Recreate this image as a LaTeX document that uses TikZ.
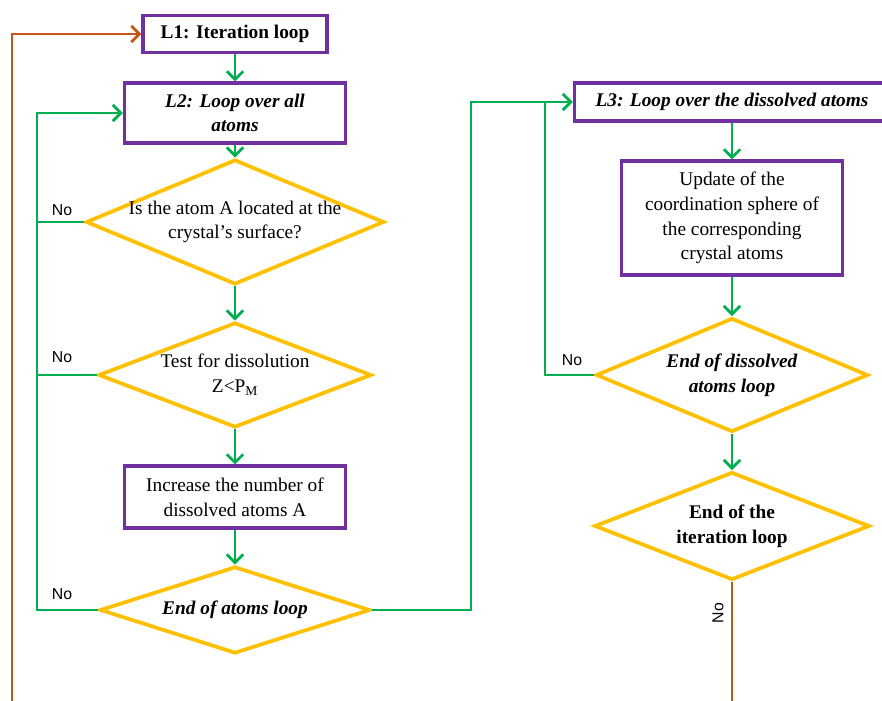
\documentclass[tikz,border=0pt]{standalone}
\usepackage{fontspec}
\setmainfont{Liberation Serif}
\newfontfamily\nofont{Liberation Sans}
\usetikzlibrary{arrows.meta,shapes.geometric}

\definecolor{flowgreen}{HTML}{00B050}
\definecolor{boxpurple}{HTML}{7030A0}
\definecolor{testgold}{HTML}{FFC000}
\definecolor{backorange}{HTML}{C8561A}

\tikzset{
  stepbox/.style={draw=boxpurple, line width=2.6pt, fill=white, align=center,
    inner sep=2pt, font=\fontsize{16.5}{21}\selectfont},
  test/.style={diamond, draw=testgold, line width=3.2pt, fill=white, align=center,
    inner xsep=-10pt, inner ysep=0pt, aspect=2.4, font=\fontsize{16.5}{21}\selectfont},
  flow/.style={draw=flowgreen, line width=2.4pt,
    -{Straight Barb[length=7pt,width=14pt]}},
  link/.style={draw=flowgreen, line width=2.4pt},
  back/.style={draw=backorange, line width=2.4pt,
    -{Straight Barb[length=7pt,width=14pt]}},
  nolab/.style={font=\nofont\fontsize{13.5}{15}\selectfont, inner sep=1pt}
}

\begin{document}
\begin{tikzpicture}[x=0.03cm, y=-0.03cm]
        \useasboundingbox (0,0) rectangle (882,701);
        \clip (0,0) rectangle (882,701);
        % left column: loop over all atoms
        \node[stepbox, minimum width=5.52cm, minimum height=1.11cm] (L1) at (235,34) {\textbf{L1: Iteration loop}};
        \node[stepbox, minimum width=6.63cm, minimum height=1.8cm] (L2) at (235,113) {\textbf{\textit{L2: Loop over all}}\\\textbf{\textit{atoms}}};
        \node[test, minimum width=8.94cm, minimum height=3.75cm] (surf) at (235,222) {Is the atom A located at the\\crystal’s surface?};
        \node[test, minimum width=8.19cm, minimum height=3.15cm] (diss) at (235,375) {Test for dissolution\\Z\textless{}P\textsubscript{M}};
        \node[stepbox, minimum width=6.63cm, minimum height=1.86cm] (incr) at (235,497) {Increase the number of\\dissolved atoms A};
        \node[test, minimum width=8.1cm, minimum height=2.61cm] (endA) at (235,610) {\textbf{\textit{End of atoms loop}}};
        % right column: loop over the dissolved atoms
        \node[stepbox, minimum width=9.45cm, minimum height=1.14cm] (L3) at (732,102) {\textbf{\textit{L3: Loop over the dissolved atoms}}};
        \node[stepbox, minimum width=6.63cm, minimum height=3.42cm] (upd) at (732,218) {Update of the\\coordination sphere of\\the corresponding\\crystal atoms};
        \node[test, minimum width=8.16cm, minimum height=3.42cm] (endD) at (732,375) {\textbf{\textit{End of dissolved}}\\\textbf{\textit{atoms loop}}};
        \node[test, minimum width=8.25cm, minimum height=3.24cm] (endI) at (732,526) {\textbf{End of the}\\\textbf{iteration loop}};
        % straight arrows
        \draw[flow] (L1) -- (L2);
        \draw[flow] (L2) -- (surf);
        \draw[flow] (surf) -- (diss);
        \draw[flow] (diss) -- (incr);
        \draw[flow] (incr) -- (endA);
        \draw[flow] (L3.south -| upd) -- (upd);
        \draw[flow] (upd) -- (endD);
        \draw[flow] (endD) -- (endI);
        % "No" loops
        \coordinate (gl) at (37,113);
        \coordinate (gr) at (471,102);
        \coordinate (gr2) at (545,102);
        \coordinate (ol) at (12,34);
        \draw[flow] (endA.west) -| (gl) -- (L2.west);
        \draw[link] (surf.west) -- (surf.west -| gl);
        \draw[link] (diss.west) -- (diss.west -| gl);
        \draw[flow] (endA.east) -| (gr) -- (L3.west);
        \draw[link] (endD.west) -| (gr2);
        \draw[back] (endI.south) -- ++(0,160) -| (ol) -- (L1.west);
        \node[nolab] (no1) at (62,210) {No};
        \node[nolab] (no2) at (62,357) {No};
        \node[nolab] (no3) at (62,594) {No};
        \node[nolab] (no4) at (572,360) {No};
        \node[nolab, rotate=90] (no5) at (718,613) {No};
\end{tikzpicture}
\end{document}
